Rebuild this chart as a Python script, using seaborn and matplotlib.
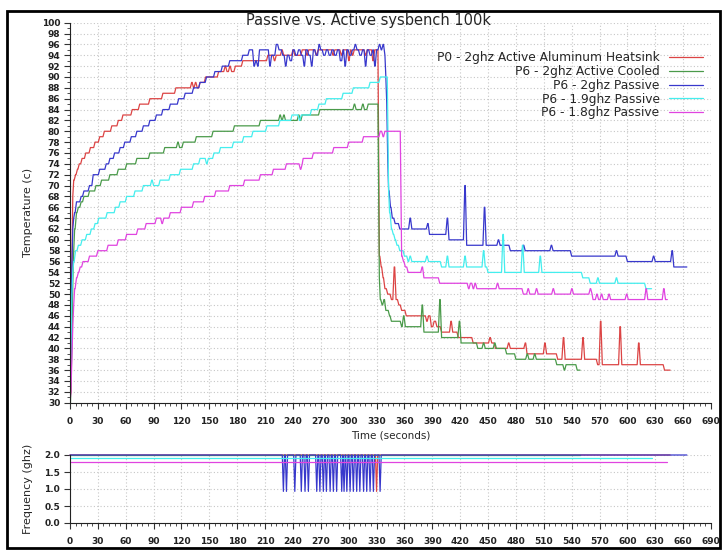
import matplotlib
matplotlib.use("Agg")
import matplotlib.pyplot as plt
import seaborn as sns
import pandas as pd
from matplotlib.ticker import MultipleLocator, FormatStrFormatter
from matplotlib.lines import Line2D
from matplotlib.patches import Rectangle

# ---------------- data ----------------
title = "Passive vs. Active sysbench 100k"
labels = ["P0 - 2ghz Active Aluminum Heatsink", "P6 - 2ghz Active Cooled",
          "P6 - 2ghz Passive", "P6 - 1.9ghz Passive", "P6 - 1.8ghz Passive"]
colors = ["#dc4444", "#4a9a4a", "#3838cc", "#44eeee", "#e044e0"]

# each series: time (s) at which a reading starts, and the reading (deg C)
red_t = [0, 1, 2, 3, 4, 6, 8, 10, 13, 17,
         22, 27, 32, 37, 45, 52, 57, 67, 75, 86,
         100, 114, 131, 133, 135, 137, 140, 146, 160, 167,
         169, 172, 174, 178, 186, 213, 220, 222, 228, 230,
         240, 242, 250, 255, 257, 265, 267, 283, 285, 292,
         294, 300, 302, 304, 306, 318, 320, 326, 328, 333,
         335, 337, 339, 342, 346, 349, 351, 354, 357, 362,
         384, 386, 389, 392, 395, 400, 410, 412, 418, 434,
         452, 454, 458, 472, 474, 490, 492, 511, 513, 525,
         531, 533, 552, 554, 568, 571, 573, 592, 594, 612,
         614, 640, 646]
red_v = [31, 32, 55, 68, 71, 72, 73, 74, 75, 76,
         77, 78, 79, 80, 81, 82, 83, 84, 85, 86,
         87, 88, 89, 88, 89, 88, 89, 90, 91, 92,
         91, 92, 91, 92, 93, 94, 93, 94, 95, 94,
         95, 94, 95, 94, 95, 94, 95, 94, 95, 94,
         95, 93, 95, 94, 95, 94, 95, 93, 95, 57,
         55, 53, 51, 50, 49, 55, 49, 48, 47, 46,
         45, 46, 44, 45, 44, 43, 45, 43, 42, 41,
         42, 41, 40, 41, 40, 41, 39, 41, 39, 38,
         42, 38, 42, 38, 37, 45, 37, 44, 37, 41,
         37, 36, 36]

green_t = [0, 2, 3, 4, 5, 7, 9, 12, 15, 21,
           28, 34, 43, 52, 61, 72, 86, 102, 116, 118,
           122, 136, 154, 177, 205, 226, 228, 230, 232, 246,
           248, 250, 269, 306, 308, 315, 317, 321, 333, 334,
           336, 338, 340, 344, 346, 357, 359, 361, 379, 381,
           398, 400, 419, 421, 439, 445, 447, 457, 459, 470,
           480, 492, 494, 500, 502, 524, 532, 534, 546, 549]
green_v = [30, 40, 52, 58, 62, 65, 66, 67, 68, 69,
           70, 71, 72, 73, 74, 75, 76, 77, 78, 77,
           78, 79, 80, 81, 82, 83, 82, 83, 82, 83,
           82, 83, 84, 85, 84, 85, 84, 85, 53, 49,
           48, 49, 47, 46, 45, 44, 46, 44, 48, 43,
           49, 42, 45, 41, 40, 41, 40, 41, 40, 39,
           38, 39, 38, 39, 38, 37, 36, 37, 36, 36]

blue_t = [0, 1, 2, 3, 4, 5, 7, 12, 15, 21,
          25, 32, 39, 43, 48, 54, 59, 66, 72, 79,
          86, 93, 100, 108, 117, 124, 133, 140, 147, 156,
          164, 172, 178, 186, 193, 198, 200, 202, 204, 215,
          217, 222, 225, 229, 232, 234, 237, 240, 243, 246,
          249, 252, 254, 257, 260, 262, 265, 268, 270, 273,
          276, 279, 282, 285, 288, 291, 294, 296, 298, 301,
          304, 307, 309, 312, 315, 318, 320, 323, 326, 328,
          330, 333, 335, 337, 339, 340, 341, 342, 343, 345,
          347, 350, 355, 360, 366, 368, 385, 387, 406, 408,
          425, 427, 446, 448, 461, 463, 474, 488, 490, 518,
          520, 540, 588, 590, 600, 628, 630, 648, 650, 664]
blue_v = [30, 40, 55, 62, 64, 65, 67, 68, 69, 70,
          72, 73, 74, 75, 76, 77, 78, 79, 80, 81,
          82, 83, 84, 85, 86, 87, 88, 89, 90, 91,
          92, 93, 93, 94, 95, 92, 93, 92, 95, 92,
          94, 96, 95, 94, 92, 94, 93, 95, 94, 95,
          94, 92, 95, 94, 92, 95, 94, 96, 95, 94,
          95, 94, 95, 94, 95, 93, 95, 92, 95, 94,
          95, 96, 95, 94, 95, 92, 95, 94, 95, 92,
          95, 96, 95, 96, 94, 90, 85, 75, 69, 66,
          64, 63, 62, 62, 64, 62, 63, 61, 64, 60,
          70, 59, 66, 59, 60, 59, 58, 59, 58, 59,
          58, 57, 58, 57, 56, 57, 56, 58, 55, 55]

cyan_t = [0, 1, 2, 3, 4, 6, 9, 13, 18, 23,
          27, 31, 40, 49, 54, 61, 70, 79, 88, 90,
          97, 108, 119, 133, 140, 147, 149, 155, 162, 176,
          187, 197, 212, 226, 239, 247, 249, 260, 268, 276,
          294, 305, 323, 334, 343, 344, 346, 348, 350, 352,
          355, 360, 364, 366, 368, 384, 386, 400, 406, 408,
          425, 427, 445, 447, 450, 466, 468, 487, 489, 506,
          508, 552, 560, 568, 570, 588, 590, 620, 626]
cyan_v = [30, 40, 50, 54, 56, 58, 59, 60, 61, 62,
          63, 64, 65, 66, 67, 68, 69, 70, 71, 70,
          71, 72, 73, 74, 75, 74, 75, 76, 77, 78,
          79, 80, 81, 82, 83, 82, 83, 84, 85, 86,
          87, 88, 89, 90, 69, 65, 62, 61, 60, 59,
          58, 57, 56, 57, 56, 57, 56, 55, 57, 55,
          57, 55, 58, 55, 54, 61, 54, 59, 54, 57,
          54, 53, 52, 53, 52, 53, 52, 51, 51]

mag_t = [0, 1, 2, 3, 4, 5, 7, 9, 11, 14,
         21, 30, 41, 52, 61, 73, 82, 93, 99, 101,
         108, 120, 133, 145, 157, 172, 188, 205, 219, 233,
         248, 250, 251, 262, 284, 300, 316, 334, 337, 339,
         357, 359, 361, 364, 379, 381, 398, 429, 431, 434,
         436, 438, 441, 460, 462, 488, 493, 495, 502, 504,
         520, 522, 540, 542, 560, 562, 563, 567, 569, 572,
         574, 580, 582, 599, 601, 620, 622, 639, 641, 643]
mag_v = [30, 32, 38, 44, 48, 51, 53, 54, 55, 56,
         57, 58, 59, 60, 61, 62, 63, 64, 63, 64,
         65, 66, 67, 68, 69, 70, 71, 72, 73, 74,
         73, 74, 75, 76, 77, 78, 79, 80, 79, 80,
         57, 56, 55, 54, 55, 53, 52, 51, 52, 51,
         52, 51, 51, 52, 51, 50, 51, 50, 51, 50,
         51, 50, 51, 50, 51, 50, 49, 50, 49, 50,
         49, 50, 49, 50, 49, 51, 49, 51, 49, 49]

# frequency panel
freq_level = [2.0, 2.0, 2.0, 1.9, 1.8]
freq_end = [646, 549, 664, 626, 643]
freq_dip_level = 0.93
blue_freq_dips = [229.7, 233, 242, 249, 253, 256.6, 265.6, 269, 272.7, 276,
                  280, 283.5, 287, 292.5, 295, 298, 301.5, 305, 308.6, 312,
                  316, 319.4, 323, 326.6, 333.8]
red_freq_dips = [330]

SAMPLE_GAP = 1.5  # seconds between a reading and the next sample (slanted risers)


# ---------------- build tables ----------------
def sampled(ts, vs):
    """Each reading holds until just before the next one is sampled."""
    out_t, out_v = [ts[0]], [vs[0]]
    for i in range(1, len(ts)):
        hold = max(ts[i - 1], ts[i] - SAMPLE_GAP)
        if hold > ts[i - 1]:
            out_t.append(hold)
            out_v.append(vs[i - 1])
        out_t.append(ts[i])
        out_v.append(vs[i])
    return out_t, out_v


temp_t = [red_t, green_t, blue_t, cyan_t, mag_t]
temp_v = [red_v, green_v, blue_v, cyan_v, mag_v]
frames = []
for lab, ts, vs in zip(labels, temp_t, temp_v):
    st, sv = sampled(ts, vs)
    frames.append(pd.DataFrame({"time": st, "temp": sv, "series": lab}))
temp_df = pd.concat(frames, ignore_index=True)

dips_by_series = {labels[0]: red_freq_dips, labels[2]: blue_freq_dips}
freq_frames = []
for lab, lvl, end in zip(labels, freq_level, freq_end):
    ft, fv = [0], [lvl]
    for d in dips_by_series.get(lab, []):
        ft += [d - 1.2, d, d + 1.2]
        fv += [lvl, freq_dip_level, lvl]
    ft.append(end)
    fv.append(lvl)
    freq_frames.append(pd.DataFrame({"time": ft, "freq": fv, "series": lab}))
freq_df = pd.concat(freq_frames, ignore_index=True)

# ---------------- figure ----------------
sns.set_style("ticks")
plt.rcParams["font.family"] = ["DejaVu Sans"]
plt.rcParams["font.weight"] = "bold"

W, H = 722, 550
fig = plt.figure(figsize=(W / 100, H / 100), dpi=100)


def box(l, t, r, b):
    return [l / W, 1 - b / H, (r - l) / W, (b - t) / H]


ax = fig.add_axes(box(70, 22.7, 711, 402.7))
axf = fig.add_axes(box(70, 455, 711, 523))
palette = dict(zip(labels, colors))

sns.lineplot(data=temp_df, x="time", y="temp", hue="series", hue_order=labels,
             palette=palette, estimator=None, sort=False,
             linewidth=0.9, legend=False, ax=ax)
sns.lineplot(data=freq_df, x="time", y="freq", hue="series", hue_order=labels,
             palette=palette, estimator=None, sort=False, linewidth=0.9,
             legend=False, ax=axf, clip_on=False)

grid_kw = dict(color="#c6c6c6", linestyle=(0, (1, 2)), linewidth=0.8)
for a in (ax, axf):
    a.set_xlim(0, 690)
    a.xaxis.set_major_locator(MultipleLocator(30))
    a.xaxis.set_minor_locator(MultipleLocator(6))
    a.grid(True, which="major", **grid_kw)
    a.set_axisbelow(True)
    for s in ("top", "right"):
        a.spines[s].set_visible(False)
    for s in ("left", "bottom"):
        a.spines[s].set_color("#222222")
        a.spines[s].set_linewidth(0.8)
    a.tick_params(which="major", length=4, width=0.8, color="#333333",
                  labelsize=6.5, labelcolor="#222222")
    a.tick_params(which="minor", length=2, width=0.6, color="#333333")
    a.tick_params(axis="x", pad=6)
    a.tick_params(axis="y", pad=3)

ax.set_ylim(30, 100)
ax.yaxis.set_major_locator(MultipleLocator(2))
ax.yaxis.set_minor_locator(MultipleLocator(1))
axf.set_ylim(0, 2.0)
axf.yaxis.set_major_locator(MultipleLocator(0.5))
axf.yaxis.set_major_formatter(FormatStrFormatter("%.1f"))

ax.set_xlabel("Time (seconds)", fontsize=7.5, fontweight="normal")
ax.xaxis.set_label_coords(0.5, -0.074)
ax.set_ylabel("Temperature (c)", fontsize=8, fontweight="normal")
ax.yaxis.set_label_coords(-0.058, 0.5)
axf.set_xlabel("")
axf.set_ylabel("Frequency (ghz)", fontsize=8, fontweight="normal")
axf.yaxis.set_label_coords(-0.058, 0.5)

handles = [Line2D([], [], color=c, linewidth=0.9) for c in colors]
ax.legend(handles, labels, loc="upper right", bbox_to_anchor=(0.9875, 0.925),
          markerfirst=False, frameon=False,
          prop={"size": 8.8, "weight": "normal"},
          handlelength=2.8, handletextpad=0.75, labelspacing=0.065,
          borderpad=0, borderaxespad=0)

fig.text(368 / W, 1 - 21 / H, title, ha="center", va="center",
         fontsize=10.5, fontweight="normal")

fig.add_artist(Rectangle((7 / W, 1 - 548 / H), (720 - 7) / W, (548 - 10.5) / H,
                         transform=fig.transFigure, fill=False,
                         linewidth=2, edgecolor="black"))

fig.savefig("out.png", dpi=100)
